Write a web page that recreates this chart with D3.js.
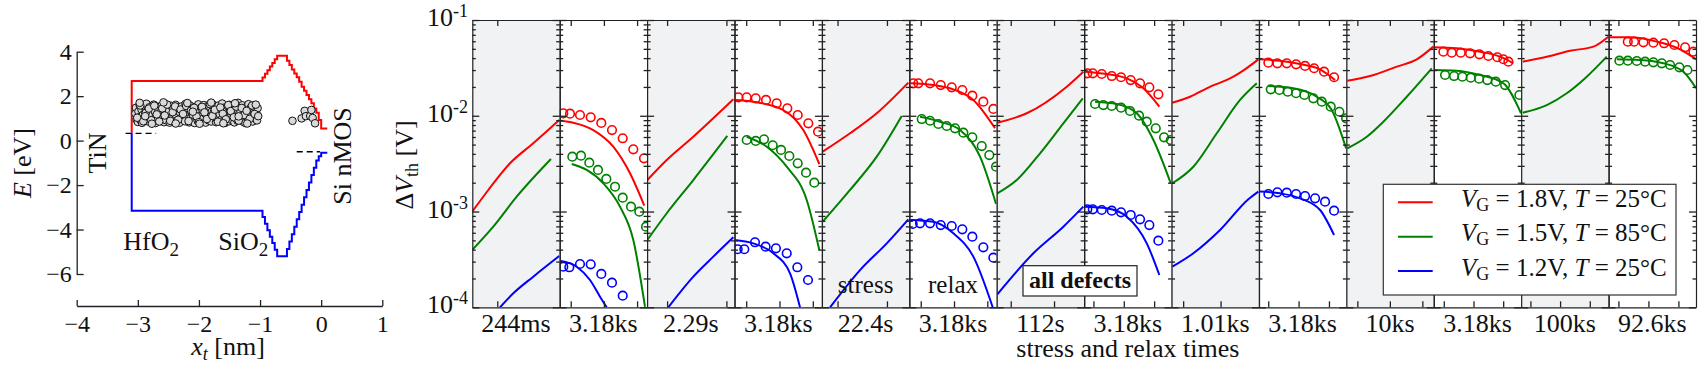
<!DOCTYPE html>
<html>
<head>
<meta charset="utf-8">
<script src="https://cdn.jsdelivr.net/npm/d3@7"></script>
<style>
  body { margin: 0; background: #fff; }
  text { font-family: "Liberation Serif", "DejaVu Serif", serif; fill: #111; }
  .axis path, .axis line { stroke: #222; }
</style>
</head>
<body>
<div id="plot"></div>
<script>
// ---------- left panel: band diagram ----------
var bandX = [-3.1, -3.1, -0.96, -0.92, -0.88, -0.84, -0.80, -0.76, -0.72, -0.68, -0.64, -0.60,
  -0.56, -0.52, -0.48, -0.44, -0.40, -0.36, -0.32, -0.28, -0.24, -0.20, -0.16, -0.12, -0.08, -0.04, 0.00, 0.10];
// conduction band edge (red) and valence band edge (blue), eV
var cbE = [0.35, 2.68, 2.84, 3.01, 3.17, 3.33, 3.49, 3.66, 3.82, 3.82, 3.82, 3.82,
  3.59, 3.40, 3.20, 3.02, 2.85, 2.65, 2.42, 2.24, 2.05, 1.86, 1.68, 1.45, 1.25, 0.93, 0.55, 0.55];
var vbE = [0.35, -3.15, -3.44, -3.74, -4.03, -4.32, -4.61, -4.91, -5.20, -5.20, -5.20, -5.20,
  -4.87, -4.54, -4.21, -3.87, -3.54, -3.21, -2.88, -2.55, -2.22, -1.88, -1.55, -1.22, -0.89, -0.70, -0.55, -0.55];
// Fermi levels (dashed)
var fermiTiN = [[-3.2, 0.33], [-2.7, 0.33]];
var fermiSi = [[-0.40, -0.50], [-0.02, -0.50]];

// defect positions / energies in HfO2
var trapX = [
  -3.04,-3.02,-3.03,-3.00,-2.99,-2.97,-2.98,-2.95,-2.94,-2.92,
  -2.93,-2.90,-2.88,-2.89,-2.86,-2.85,-2.83,-2.84,-2.81,-2.79,
  -2.80,-2.77,-2.76,-2.74,-2.75,-2.72,-2.70,-2.71,-2.68,-2.66,
  -2.67,-2.64,-2.63,-2.61,-2.62,-2.59,-2.57,-2.58,-2.55,-2.53,
  -2.54,-2.51,-2.50,-2.48,-2.49,-2.46,-2.44,-2.45,-2.42,-2.40,
  -2.41,-2.38,-2.37,-2.35,-2.36,-2.33,-2.31,-2.32,-2.29,-2.27,
  -2.28,-2.25,-2.24,-2.22,-2.23,-2.20,-2.18,-2.19,-2.16,-2.14,
  -2.15,-2.12,-2.11,-2.09,-2.10,-2.07,-2.05,-2.06,-2.03,-2.01,
  -2.02,-1.99,-1.98,-1.96,-1.97,-1.94,-1.92,-1.93,-1.90,-1.88,
  -1.89,-1.86,-1.85,-1.83,-1.84,-1.81,-1.79,-1.80,-1.77,-1.75,
  -1.76,-1.73,-1.72,-1.70,-1.71,-1.68,-1.66,-1.67,-1.64,-1.62,
  -1.63,-1.60,-1.59,-1.57,-1.58,-1.55,-1.53,-1.54,-1.51,-1.49,
  -1.50,-1.47,-1.46,-1.44,-1.45,-1.42,-1.40,-1.41,-1.38,-1.36,
  -1.37,-1.34,-1.33,-1.31,-1.32,-1.29,-1.27,-1.28,-1.25,-1.23,
  -1.24,-1.21,-1.20,-1.18,-1.19,-1.16,-1.14,-1.15,-1.12,-1.10,
  -1.11,-1.08,-1.07,-1.05,-1.06,-1.04,
  -3.01,-2.96,-2.91,-2.87,-2.82,-2.78,-2.73,-2.69,-2.65,-2.60,
  -2.56,-2.52,-2.47,-2.43,-2.39,-2.34,-2.30,-2.26,-2.21,-2.17,
  -2.13,-2.08,-2.04,-2.00,-1.95,-1.91,-1.87,-1.82,-1.78,-1.74,
  -1.69,-1.65,-1.61,-1.56,-1.52,-1.48,-1.43,-1.39,-1.35,-1.30,
  -1.26,-1.22,-1.17,-1.13,-1.09,-1.03,-2.97,-2.58,-2.19,-1.80,
  -1.41,-1.07,-2.77,-2.38,-1.99,-1.60,-1.21,-2.88,-2.10,-1.35];
var trapE = [
  1.22,0.95,1.48,0.84,1.31,1.60,1.05,0.90,1.40,1.15,
  0.80,1.55,1.26,0.98,1.66,1.10,0.86,1.36,1.50,1.02,
  1.20,0.82,1.45,1.62,0.94,1.30,1.12,0.79,1.52,1.38,
  1.00,1.24,0.88,1.58,1.16,1.42,0.83,1.06,1.64,1.28,
  0.92,1.47,1.19,0.81,1.35,1.57,1.04,0.97,1.44,1.23,
  0.85,1.61,1.11,1.33,0.90,1.49,1.27,0.80,1.39,1.08,
  1.54,0.96,1.21,1.65,0.87,1.32,1.14,1.46,0.82,1.01,
  1.59,1.25,0.93,1.41,1.17,0.79,1.53,1.34,1.03,1.63,
  0.89,1.29,1.13,1.50,0.84,1.37,1.60,0.99,1.22,1.45,
  0.81,1.18,1.56,1.07,0.91,1.43,1.30,0.86,1.62,1.09,
  1.26,1.51,0.83,1.36,1.00,1.58,1.19,0.88,1.41,1.67,
  0.95,1.24,1.48,0.80,1.12,1.35,1.55,1.03,0.87,1.31,
  1.61,1.16,0.92,1.44,1.27,0.82,1.52,1.06,1.38,1.70,
  0.90,1.21,1.47,0.97,1.33,1.59,0.84,1.14,1.42,1.25,
  0.79,1.55,1.02,1.37,1.64,0.94,1.19,1.49,0.86,1.29,
  1.08,1.57,1.40,0.91,1.23,1.46,
  1.03,1.58,0.87,1.25,1.44,0.92,1.57,1.18,0.86,1.45,
  1.13,1.62,0.89,1.28,1.54,0.94,1.40,1.20,1.56,0.88,
  1.35,1.48,1.09,0.83,1.52,1.27,0.97,1.64,1.11,1.39,
  0.85,1.49,1.21,0.96,1.60,1.33,1.05,1.53,0.90,1.47,
  1.15,1.34,0.98,1.58,1.20,1.10,1.70,1.72,1.69,1.71,
  1.68,1.62,0.76,0.77,0.76,0.78,0.77,1.10,1.30,1.09];
// defects in the SiO2 interlayer
var oxTrapX = [-0.47, -0.32, -0.27, -0.25, -0.18, -0.16, -0.14, -0.10];
var oxTrapE = [0.89, 1.00, 1.34, 1.10, 1.11, 1.38, 1.02, 0.78];

// ---------- right panel: stress / relax sequence ----------
var panelLabels = ["244ms", "3.18ks", "2.29s", "3.18ks", "22.4s", "3.18ks", "112s",
  "3.18ks", "1.01ks", "3.18ks", "10ks", "3.18ks", "100ks", "92.6ks"];
// log10 of the time window shown in each sub panel [s]
var panelLo = [-1.357, 0.669, -1.337, 0.649, -0.316, 0.658, 0.677, 0.694, 0.690, 0.694, 0.662, 0.663, 0.690, 0.673];
var panelHi = [-0.108, 3.302, 0.137, 3.274, 1.453, 3.283, 2.695, 3.574, 3.027, 3.574, 3.351, 3.606, 3.633, 3.586];

// simulated dVth, points are [log10 t, log10 dVth]
var redFit = [
  [[-1.357,-3.0],[-1.128,-2.775],[-0.818,-2.496],[-0.486,-2.287],[-0.114,-2.044]],
  [[0.699,-2.051],[1.079,-2.072],[1.681,-2.149],[2.283,-2.323],[2.787,-2.601],[3.217,-2.939]],
  [[-1.334,-2.671],[-1.006,-2.462],[-0.558,-2.219],[0.117,-1.828]],
  [[0.643,-1.835],[1.214,-1.853],[2.114,-1.940],[2.715,-2.149],[3.195,-2.504]],
  [[-0.300,-2.375],[0.253,-2.183],[0.793,-1.974],[1.433,-1.654]],
  [[0.679,-1.661],[1.379,-1.679],[1.979,-1.724],[2.580,-1.835],[3.232,-2.131]],
  [[0.691,-2.072],[1.370,-1.974],[2.294,-1.696],[2.677,-1.540]],
  [[0.724,-1.540],[1.439,-1.564],[2.098,-1.609],[2.645,-1.713],[3.172,-1.905]],
  [[0.711,-1.864],[1.185,-1.801],[1.631,-1.713],[2.342,-1.592],[2.522,-1.550],[3.011,-1.411]],
  [[0.707,-1.411],[1.389,-1.425],[2.048,-1.459],[2.707,-1.515],[3.201,-1.627]],
  [[0.693,-1.634],[1.391,-1.585],[2.213,-1.487],[2.828,-1.411],[3.339,-1.278]],
  [[0.673,-1.285],[1.432,-1.296],[2.222,-1.331],[2.895,-1.383],[3.343,-1.452]],
  [[0.744,-1.435],[1.552,-1.383],[2.336,-1.321],[3.121,-1.278],[3.626,-1.174]],
  [[0.700,-1.181],[1.390,-1.181],[2.280,-1.226],[3.056,-1.306],[3.590,-1.411]]
];
var greenFit = [
  [[-1.357,-3.40],[-1.057,-3.158],[-0.723,-2.845],[-0.233,-2.451]],
  [[1.030,-2.504],[1.482,-2.566],[1.982,-2.705],[2.485,-2.949],[2.886,-3.297],[3.238,-3.994]],
  [[-1.334,-3.297],[-1.006,-3.018],[-0.558,-2.671],[0.015,-2.211]],
  [[1.015,-2.219],[1.616,-2.323],[2.217,-2.532],[2.817,-2.880],[3.195,-3.402]],
  [[-0.300,-3.106],[0.253,-2.775],[0.793,-2.427],[1.299,-2.002]],
  [[0.979,-2.010],[1.580,-2.062],[2.180,-2.149],[2.781,-2.427],[3.262,-2.921]],
  [[0.691,-2.810],[1.139,-2.671],[1.677,-2.392],[2.215,-2.079],[2.663,-1.818]],
  [[1.053,-1.853],[1.768,-1.877],[2.427,-1.974],[2.976,-2.253],[3.547,-2.705]],
  [[0.711,-2.705],[1.273,-2.532],[1.899,-2.183],[2.522,-1.835],[2.968,-1.661]],
  [[1.004,-1.689],[1.827,-1.713],[2.598,-1.801],[3.092,-1.940],[3.564,-2.340]],
  [[0.693,-2.340],[1.290,-2.219],[1.801,-2.062],[2.521,-1.801],[3.290,-1.505]],
  [[0.707,-1.522],[1.438,-1.529],[2.222,-1.574],[3.006,-1.661],[3.600,-1.974]],
  [[0.744,-1.968],[1.552,-1.888],[2.225,-1.765],[2.899,-1.592],[3.572,-1.383]],
  [[0.946,-1.411],[1.723,-1.418],[2.500,-1.452],[3.166,-1.540],[3.590,-1.713]]
];
var blueFit = [
  [[-0.961,-4.0],[-0.771,-3.854],[-0.486,-3.68],[-0.114,-3.464]],
  [[0.699,-3.516],[1.181,-3.576],[1.582,-3.715],[1.883,-3.889],[2.085,-4.0]],
  [[-0.979,-4.0],[-0.558,-3.680],[-0.221,-3.471],[0.117,-3.269]],
  [[0.643,-3.297],[1.214,-3.332],[1.814,-3.436],[2.316,-3.645],[2.616,-4.0]],
  [[-0.152,-4.0],[0.455,-3.611],[0.996,-3.332],[1.433,-3.081]],
  [[0.679,-3.088],[1.379,-3.106],[1.979,-3.227],[2.580,-3.471],[3.162,-4.0]],
  [[0.691,-3.864],[1.522,-3.436],[2.215,-3.158],[2.677,-2.949]],
  [[0.724,-2.949],[1.439,-2.966],[2.098,-3.054],[2.757,-3.332],[3.172,-3.663]],
  [[0.711,-3.576],[1.273,-3.436],[1.987,-3.193],[2.743,-2.872],[3.011,-2.792]],
  [[0.707,-2.792],[1.389,-2.810],[2.048,-2.862],[2.707,-2.984],[3.168,-3.245]],
  [], [], [], []
];

// measured dVth during relaxation, [log10 t, log10 dVth]
var redMeas = [
  null,
  [[0.777,-1.974],[0.979,-1.978],[1.280,-1.992],[1.603,-2.016],[1.922,-2.075],[2.244,-2.149],[2.567,-2.235],[2.886,-2.350],[3.208,-2.444]],
  null,
  [[0.763,-1.807],[1.015,-1.807],[1.286,-1.818],[1.595,-1.835],[1.916,-1.870],[2.235,-1.922],[2.547,-1.992],[2.865,-2.079],[3.157,-2.166]],
  null,
  [[0.778,-1.661],[0.928,-1.661],[1.280,-1.661],[1.601,-1.679],[1.931,-1.703],[2.249,-1.731],[2.550,-1.790],[2.880,-1.853],[3.181,-1.929]],
  null,
  [[0.799,-1.557],[0.978,-1.557],[1.274,-1.564],[1.604,-1.585],[1.910,-1.598],[2.229,-1.627],[2.536,-1.661],[2.842,-1.703],[3.139,-1.776]],
  null,
  [[1.004,-1.446],[1.300,-1.452],[1.610,-1.452],[1.916,-1.463],[2.213,-1.480],[2.510,-1.504],[2.839,-1.540],[3.169,-1.598]],
  null,
  [[0.986,-1.331],[1.269,-1.341],[1.572,-1.341],[1.885,-1.348],[2.198,-1.358],[2.501,-1.376],[2.804,-1.389],[3.006,-1.410],[3.175,-1.435]],
  null,
  [[1.313,-1.226],[1.523,-1.226],[1.833,-1.233],[2.166,-1.237],[2.523,-1.243],[2.866,-1.261],[3.223,-1.285],[3.500,-1.331]]
];
var greenMeas = [
  null,
  [[1.049,-2.427],[1.311,-2.417],[1.561,-2.490],[1.823,-2.566],[2.073,-2.660],[2.335,-2.741],[2.567,-2.855],[2.817,-2.949],[3.067,-3.002],[3.268,-3.158]],
  null,
  [[1.015,-2.253],[1.286,-2.263],[1.535,-2.246],[1.796,-2.308],[2.046,-2.357],[2.295,-2.420],[2.547,-2.497],[2.796,-2.594],[3.045,-2.699]],
  null,
  [[1.030,-2.034],[1.280,-2.052],[1.529,-2.086],[1.781,-2.107],[2.031,-2.131],[2.280,-2.177],[2.550,-2.225],[2.832,-2.316],[3.060,-2.410],[3.262,-2.532]],
  null,
  [[1.053,-1.877],[1.327,-1.888],[1.603,-1.898],[1.910,-1.916],[2.206,-1.950],[2.503,-1.999],[2.757,-2.062],[3.053,-2.131],[3.327,-2.225],[3.547,-2.253]],
  null,
  [[1.083,-1.724],[1.366,-1.731],[1.643,-1.749],[1.916,-1.765],[2.190,-1.783],[2.486,-1.818],[2.763,-1.853],[3.059,-1.905],[3.343,-1.958],[3.564,-2.027]],
  null,
  [[1.043,-1.574],[1.346,-1.585],[1.626,-1.592],[1.909,-1.602],[2.188,-1.613],[2.467,-1.627],[2.751,-1.644],[3.064,-1.679],[3.545,-1.783]],
  null,
  [[1.033,-1.425],[1.313,-1.425],[1.613,-1.428],[1.890,-1.435],[2.166,-1.442],[2.446,-1.452],[2.723,-1.470],[3.033,-1.494],[3.300,-1.522]]
];
var blueMeas = [
  null,
  [[0.777,-3.576],[0.958,-3.582],[1.280,-3.548],[1.603,-3.551],[1.922,-3.652],[2.244,-3.743],[2.567,-3.879]],
  null,
  [[0.745,-3.394],[0.943,-3.394],[1.264,-3.321],[1.583,-3.367],[1.892,-3.384],[2.217,-3.436],[2.535,-3.582],[2.856,-3.715]],
  null,
  [[0.760,-3.130],[0.979,-3.123],[1.280,-3.123],[1.601,-3.141],[1.931,-3.151],[2.249,-3.186],[2.550,-3.263],[2.880,-3.374],[3.181,-3.482]],
  null,
  [[0.799,-2.977],[0.978,-2.977],[1.274,-2.984],[1.604,-2.991],[1.910,-3.008],[2.229,-3.036],[2.536,-3.081],[2.842,-3.141],[3.139,-3.304]],
  null,
  [[1.004,-2.817],[1.300,-2.799],[1.610,-2.803],[1.916,-2.817],[2.213,-2.838],[2.543,-2.862],[2.872,-2.897],[3.169,-2.991]],
  null, null, null, null
];

var seriesColors = ["#ff0000", "#008000", "#0000ff"];
var legendLabels = [["1.8V", "25°C"], ["1.5V", "85°C"], ["1.2V", "25°C"]];
var yDecades = [-4, -3, -2, -1];

// ----------------------------------------------------------
var svg = d3.select("#plot").append("svg")
  .attr("width", 1703).attr("height", 376);

var serif = "'Liberation Serif', 'DejaVu Serif', serif";

// ===== left panel =====
var xL = d3.scaleLinear().domain([-4, 1]).range([76.7, 382.3]);
var yL = d3.scaleLinear().domain([-6, 4]).range([274, 51.7]);
var left = svg.append("g");

var dash = d3.line().x(d => xL(d[0])).y(d => yL(d[1]));
[fermiTiN, fermiSi].forEach(f => {
  left.append("path").attr("d", dash(f))
    .attr("stroke", "#000").attr("stroke-width", 1.3).attr("stroke-dasharray", "6,4").attr("fill", "none");
});

var band = d3.line().x((d, i) => xL(bandX[i])).y(d => yL(d)).curve(d3.curveStepAfter);
left.append("path").attr("d", band(cbE)).attr("stroke", "#ff0000").attr("stroke-width", 2).attr("fill", "none");
left.append("path").attr("d", band(vbE)).attr("stroke", "#0000ff").attr("stroke-width", 2).attr("fill", "none");

left.selectAll(".trap")
  .data(trapX.map((x, i) => [x, trapE[i]]).concat(oxTrapX.map((x, i) => [x, oxTrapE[i]])))
  .enter().append("circle")
  .attr("class", "trap")
  .attr("cx", d => xL(d[0])).attr("cy", d => yL(d[1]))
  .attr("r", 3.8)
  .attr("fill", "#d9d9d9").attr("stroke", "#111").attr("stroke-width", 1);

var fmt = d3.format("d");
left.append("g").attr("class", "axis")
  .attr("transform", "translate(76.7,0)")
  .call(d3.axisLeft(yL).tickValues([-6, -4, -2, 0, 2, 4]).tickFormat(fmt)
    .tickSizeInner(-7).tickSizeOuter(0).tickPadding(5));
left.append("g").attr("class", "axis")
  .attr("transform", "translate(0,306)")
  .call(d3.axisBottom(xL).tickValues([-4, -3, -2, -1, 0, 1]).tickFormat(fmt)
    .tickSizeInner(-6).tickSizeOuter(0).tickPadding(9));
left.selectAll(".axis").attr("font-family", serif).attr("font-size", 24);
left.selectAll(".axis text").style("font-family", serif).style("font-size", "24px").attr("fill", "#111");
left.selectAll(".axis path, .axis line").attr("stroke-width", 1.3);

var eLab = left.append("text").attr("transform", "translate(31,163) rotate(-90)")
  .attr("text-anchor", "middle").style("font-size", "26px");
eLab.append("tspan").style("font-style", "italic").text("E");
eLab.append("tspan").text(" [eV]");

var xLab = left.append("text").attr("x", 228).attr("y", 355)
  .attr("text-anchor", "middle").style("font-size", "26px");
xLab.append("tspan").style("font-style", "italic").text("x");
xLab.append("tspan").style("font-style", "italic").style("font-size", "18px").attr("dy", 5).text("t");
xLab.append("tspan").attr("dy", -5).text(" [nm]");

left.append("text").attr("transform", "translate(106,153) rotate(-90)")
  .attr("text-anchor", "middle").style("font-size", "26px").text("TiN");
left.append("text").attr("transform", "translate(351,156) rotate(-90)")
  .attr("text-anchor", "middle").style("font-size", "26px").text("Si nMOS");
[["HfO", 123.3], ["SiO", 218.3]].forEach(o => {
  var t = left.append("text").attr("x", o[1]).attr("y", 250).style("font-size", "26px");
  t.append("tspan").text(o[0]);
  t.append("tspan").attr("dy", 6).style("font-size", "19px").text("2");
});

// ===== right panel =====
var xr0 = 472.3, xr1 = 1696, yTop = 20, yBot = 307.3;
var panels = d3.scaleBand().domain(d3.range(panelLabels.length)).range([xr0, xr1]);
var y = d3.scaleLog().domain([1e-4, 1e-1]).range([yBot, yTop]);
var majorY = yDecades.map(k => Math.pow(10, k));
var minorY = [];
yDecades.slice(0, 3).forEach(k => d3.range(2, 10).forEach(m => minorY.push(m * Math.pow(10, k))));

var right = svg.append("g");
var defs = svg.append("defs");

panelLabels.forEach((lab, i) => {
  var px = panels(i), pw = panels.bandwidth();
  var x = d3.scaleLog().domain([Math.pow(10, panelLo[i]), Math.pow(10, panelHi[i])]).range([px, px + pw]);
  var ticks = d3.range(Math.ceil(panelLo[i]), Math.floor(panelHi[i]) + 1)
    .map(k => Math.pow(10, k))
    .filter(t => x(t) - px > 3 && px + pw - x(t) > 3);

  defs.append("clipPath").attr("id", "clip" + i)
    .append("rect").attr("x", px).attr("y", yTop).attr("width", pw).attr("height", yBot - yTop);

  var g = right.append("g");
  if (i % 2 === 0) {
    g.append("rect").attr("x", px).attr("y", yTop).attr("width", pw).attr("height", yBot - yTop)
      .attr("fill", "#f1f2f4");
  }

  var marks = g.append("g").attr("clip-path", "url(#clip" + i + ")");
  var line = d3.line()
    .x(d => x(Math.pow(10, d[0])))
    .y(d => y(Math.pow(10, d[1])))
    .curve(d3.curveMonotoneX);

  [redFit, greenFit, blueFit].forEach((s, c) => {
    if (s[i] && s[i].length) {
      marks.append("path").datum(s[i]).attr("d", line)
        .attr("fill", "none").attr("stroke", seriesColors[c]).attr("stroke-width", 2);
    }
  });
  [redMeas, greenMeas, blueMeas].forEach((s, c) => {
    if (s[i]) {
      marks.selectAll(".m" + c).data(s[i]).enter().append("circle")
        .attr("class", "m" + c)
        .attr("cx", d => x(Math.pow(10, d[0])))
        .attr("cy", d => y(Math.pow(10, d[1])))
        .attr("r", 4.3)
        .attr("fill", "none").attr("stroke", seriesColors[c]).attr("stroke-width", 1.6);
    }
  });

  // frame and ticks (inward)
  g.append("g").attr("class", "axis").attr("transform", "translate(0," + yTop + ")")
    .call(d3.axisTop(x).tickValues(ticks).tickSize(-6).tickSizeOuter(0).tickFormat(""));
  g.append("g").attr("class", "axis").attr("transform", "translate(0," + yBot + ")")
    .call(d3.axisBottom(x).tickValues(ticks).tickSize(-6).tickSizeOuter(0).tickFormat(""));
  g.append("g").attr("class", "axis").attr("transform", "translate(" + px + ",0)")
    .call(d3.axisLeft(y).tickValues(majorY).tickSize(-7).tickSizeOuter(0).tickFormat(""));
  g.append("g").attr("class", "axis").attr("transform", "translate(" + (px + pw) + ",0)")
    .call(d3.axisRight(y).tickValues(majorY).tickSize(-7).tickSizeOuter(0).tickFormat(""));
  g.append("g").attr("class", "axis").attr("transform", "translate(" + px + ",0)")
    .call(d3.axisLeft(y).tickValues(minorY).tickSize(-3.5).tickSizeOuter(0).tickFormat(""))
    .call(a => a.select(".domain").remove());
  g.append("g").attr("class", "axis").attr("transform", "translate(" + (px + pw) + ",0)")
    .call(d3.axisRight(y).tickValues(minorY).tickSize(-3.5).tickSizeOuter(0).tickFormat(""))
    .call(a => a.select(".domain").remove());

  right.append("text").attr("x", px + pw / 2).attr("y", 332)
    .attr("text-anchor", "middle").style("font-size", "26px").text(lab);
});
right.selectAll(".axis .tick line").attr("stroke-width", 1.3);
right.selectAll(".axis .domain").attr("stroke-width", 1.2);

// y tick labels 10^k
yDecades.forEach(k => {
  var t = right.append("text").attr("x", 468).attr("y", y(Math.pow(10, k)) + 6)
    .attr("text-anchor", "end").style("font-size", "26px");
  t.append("tspan").text("10");
  t.append("tspan").attr("dy", -9).style("font-size", "18px").text("-" + (-k));
});

var yLab = right.append("text").attr("transform", "translate(413,165) rotate(-90)")
  .attr("text-anchor", "middle").style("font-size", "26px");
yLab.append("tspan").text("Δ");
yLab.append("tspan").style("font-style", "italic").text("V");
yLab.append("tspan").attr("dy", 5).style("font-size", "18px").text("th");
yLab.append("tspan").attr("dy", -5).text(" [V]");

right.append("text").attr("x", panels(7) + panels.bandwidth() / 2).attr("y", 357)
  .attr("text-anchor", "middle").style("font-size", "26px").text("stress and relax times");

right.append("text").attr("x", panels(4) + panels.bandwidth() / 2).attr("y", 293)
  .attr("text-anchor", "middle").style("font-size", "25px").text("stress");
right.append("text").attr("x", panels(5) + panels.bandwidth() / 2).attr("y", 293)
  .attr("text-anchor", "middle").style("font-size", "25px").text("relax");

right.append("rect").attr("x", 1023).attr("y", 265.7).attr("width", 114).attr("height", 30.3)
  .attr("fill", "#fff").attr("stroke", "#222").attr("stroke-width", 1.2);
right.append("text").attr("x", 1080).attr("y", 288).attr("text-anchor", "middle")
  .style("font-size", "24px").style("font-weight", "bold").text("all defects");

// legend
var leg = right.append("g");
leg.append("rect").attr("x", 1383.3).attr("y", 184.3).attr("width", 292.7).attr("height", 110.7)
  .attr("fill", "#fff").attr("stroke", "#333").attr("stroke-width", 1.2);
legendLabels.forEach((l, i) => {
  var ly = 202.3 + i * 34.4;
  leg.append("line").attr("x1", 1398).attr("x2", 1432.7).attr("y1", ly).attr("y2", ly)
    .attr("stroke", seriesColors[i]).attr("stroke-width", 2);
  var t = leg.append("text").attr("x", 1666.7).attr("y", ly + 4.5)
    .attr("text-anchor", "end").style("font-size", "25px");
  t.append("tspan").style("font-style", "italic").text("V");
  t.append("tspan").attr("dy", 4).style("font-size", "18px").text("G");
  t.append("tspan").attr("dy", -4).text(" = " + l[0] + ", ");
  t.append("tspan").style("font-style", "italic").text("T");
  t.append("tspan").text(" = " + l[1]);
});
</script>
</body>
</html>
